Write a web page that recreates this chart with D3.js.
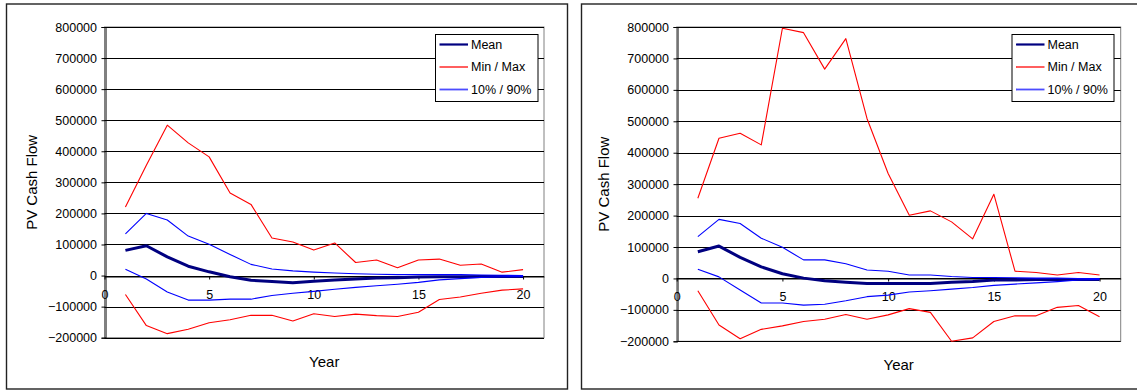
<!DOCTYPE html>
<html>
<head>
<meta charset="utf-8">
<script src="https://cdn.jsdelivr.net/npm/d3@7"></script>
<style>
  html, body { margin: 0; padding: 0; background: #fff; }
  svg { display: block; }
  text { font-family: "Liberation Sans", Arial, sans-serif; fill: #000; }
</style>
</head>
<body>
<svg id="chart" width="1137" height="390"></svg>
<script>
// Simulation years on the x axis
const years = [1, 2, 3, 4, 5, 6, 7, 8, 9, 10, 11, 12, 13, 14, 15, 16, 17, 18, 19, 20];

// First scenario: present value of cash flow per year
const leftMean = [81000, 96000, 60000, 30000, 12000, -4000, -15000, -19000, -23000, -18000,
                  -14000, -11000, -8000, -7000, -5000, -4000, -4000, -3000, -3000, -3000];
const leftMax  = [221000, 355000, 484000, 427000, 382000, 266000, 229000, 121000, 108000, 82000,
                  105000, 42000, 50000, 25000, 50000, 53000, 33000, 37000, 11000, 19000];
const leftMin  = [-61000, -161000, -187000, -173000, -152000, -142000, -128000, -128000, -146000, -123000,
                  -132000, -124000, -129000, -132000, -118000, -77000, -69000, -57000, -47000, -43000];
const leftP90  = [134000, 200000, 179000, 127000, 101000, 68000, 36000, 21000, 15000, 11000,
                  8000, 6000, 4000, 3000, 3000, 3000, 3000, 2000, 1000, 0];
const leftP10  = [20000, -11000, -53000, -79000, -79000, -76000, -76000, -64000, -57000, -51000,
                  -44000, -38000, -33000, -28000, -22000, -14000, -10000, -6000, -4000, -3000];

// Second scenario
const rightMean = [85000, 103000, 67000, 37000, 15000, 1000, -7000, -12000, -16000, -16000,
                   -16000, -16000, -12000, -10000, -5000, -5000, -3000, -3000, -3000, -3000];
const rightMax  = [255000, 446000, 462000, 425000, 796000, 782000, 666000, 763000, 509000, 334000,
                   201000, 215000, 180000, 126000, 268000, 23000, 19000, 11000, 19000, 11000];
const rightMin  = [-39000, -148000, -192000, -162000, -151000, -137000, -130000, -115000, -130000, -116000,
                   -96000, -108000, -200000, -189000, -137000, -119000, -119000, -92000, -86000, -122000];
const rightP90  = [133000, 188000, 175000, 128000, 99000, 59000, 59000, 47000, 27000, 23000,
                   11000, 11000, 6000, 3000, 3000, 2000, 1000, 1000, 0, 0];
const rightP10  = [29000, 5000, -37000, -78000, -78000, -85000, -82000, -71000, -58000, -53000,
                   -43000, -39000, -34000, -29000, -22000, -18000, -14000, -10000, -5000, -3000];

// Axis ticks and text
const yTicks = [-200000, -100000, 0, 100000, 200000, 300000, 400000, 500000, 600000, 700000, 800000];
const xTicks = [0, 5, 10, 15, 20];
const xDomain = [0, 21];
const yDomain = [-200000, 800000];
const legendLabels = ["Mean", "Min / Max", "10% / 90%"];
const yTitle = "PV Cash Flow";
const xTitle = "Year";

const colors = { mean: "#000080", minmax: "#ff0000", pct: "#0000ff" };

const svg = d3.select("#chart");

function drawPanel(cfg, data) {
  const g = svg.append("g");

  // Outer chart frame
  g.append("rect")
    .attr("x", cfg.frame[0]).attr("y", cfg.frame[1])
    .attr("width", cfg.frame[2]).attr("height", cfg.frame[3])
    .attr("fill", "#fff").attr("stroke", "#222").attr("stroke-width", 1.4);

  const x = d3.scaleLinear().domain(xDomain).range([cfg.left, cfg.right]);
  const y = d3.scaleLinear().domain(yDomain).range([cfg.bottom, cfg.top]);

  // Plot area border
  g.append("rect")
    .attr("x", cfg.left).attr("y", cfg.top)
    .attr("width", cfg.right - cfg.left).attr("height", cfg.bottom - cfg.top)
    .attr("fill", "#fff").attr("stroke", "#808080").attr("stroke-width", 1);

  // Horizontal gridlines
  g.append("g").selectAll("line").data(yTicks).join("line")
    .attr("x1", cfg.left).attr("x2", cfg.right)
    .attr("y1", d => Math.round(y(d)) + 0.5).attr("y2", d => Math.round(y(d)) + 0.5)
    .attr("stroke", "#000").attr("stroke-width", 1);

  // Y axis
  const yAxis = d3.axisLeft(y).tickValues(yTicks).tickFormat(d3.format("d"))
    .tickSize(4).tickPadding(4.5);
  const ya = g.append("g").attr("transform", `translate(${Math.round(cfg.left) + 0.5},0)`).call(yAxis);
  ya.selectAll("path").attr("stroke", "#000");
  ya.selectAll("line").attr("stroke", "#000");
  ya.selectAll("text").attr("font-size", "12.5px").attr("font-family", "Liberation Sans, Arial, sans-serif").attr("fill", "#000");

  // X axis on the zero line
  const xAxis = d3.axisBottom(x).tickValues(xTicks).tickFormat(d3.format("d"))
    .tickSize(3).tickPadding(10.5).tickSizeOuter(0);
  const xa = g.append("g").attr("transform", `translate(0,${Math.round(y(0)) + 0.5})`).call(xAxis);
  xa.selectAll("path").attr("stroke", "#000");
  xa.selectAll("line").attr("stroke", "#000");
  xa.selectAll("text").attr("font-size", "12.5px").attr("font-family", "Liberation Sans, Arial, sans-serif").attr("fill", "#000");

  const line = d3.line().x((d, i) => x(years[i])).y(d => y(d));

  const series = [
    { values: data.mean, color: colors.mean, width: 3 },
    { values: data.max, color: colors.minmax, width: 1.1 },
    { values: data.min, color: colors.minmax, width: 1.1 },
    { values: data.p90, color: colors.pct, width: 1.1 },
    { values: data.p10, color: colors.pct, width: 1.1 }
  ];
  g.append("g").selectAll("path").data(series).join("path")
    .attr("d", d => line(d.values))
    .attr("fill", "none")
    .attr("stroke", d => d.color)
    .attr("stroke-width", d => d.width)
    .attr("stroke-linejoin", "round");

  // Axis titles
  g.append("text")
    .attr("transform", `translate(${cfg.yTitleX},${(cfg.top + cfg.bottom) / 2}) rotate(-90)`)
    .attr("text-anchor", "middle").attr("dy", "0.35em")
    .attr("font-size", "15px").text(yTitle);
  g.append("text")
    .attr("x", (cfg.left + cfg.right) / 2).attr("y", cfg.bottom + 29)
    .attr("text-anchor", "middle").attr("font-size", "15px").text(xTitle);

  // Legend
  const lg = g.append("g").attr("transform", `translate(${cfg.legend[0]},${cfg.legend[1]})`);
  lg.append("rect").attr("x", 0.5).attr("y", 0.5).attr("width", cfg.legend[2]).attr("height", 67)
    .attr("fill", "#fff").attr("stroke", "#000").attr("stroke-width", 1);
  const legendColors = [colors.mean, colors.minmax, colors.pct];
  const rows = lg.selectAll("g.row").data(legendLabels).join("g")
    .attr("class", "row")
    .attr("transform", (d, i) => `translate(0,${10.5 + i * 22.5})`);
  rows.append("line")
    .attr("x1", 4.5).attr("x2", 33)
    .attr("stroke", (d, i) => legendColors[i])
    .attr("stroke-opacity", (d, i) => i === 0 ? 1 : 0.7)
    .attr("stroke-width", (d, i) => i === 0 ? 2.2 : 1.8);
  rows.append("text")
    .attr("x", 36).attr("dy", "0.35em")
    .attr("font-size", "12.5px").text(d => d);
}

drawPanel(
  { frame: [6.5, 4, 561, 385], left: 104.5, right: 544, top: 27, bottom: 337.7,
    yTitleX: 32, legend: [435, 34, 102.5] },
  { mean: leftMean, max: leftMax, min: leftMin, p90: leftP90, p10: leftP10 }
);

drawPanel(
  { frame: [581.5, 4, 570, 385], left: 676.7, right: 1120.7, top: 27, bottom: 341.3,
    yTitleX: 603.5, legend: [1011.5, 34, 102] },
  { mean: rightMean, max: rightMax, min: rightMin, p90: rightP90, p10: rightP10 }
);
</script>
</body>
</html>
